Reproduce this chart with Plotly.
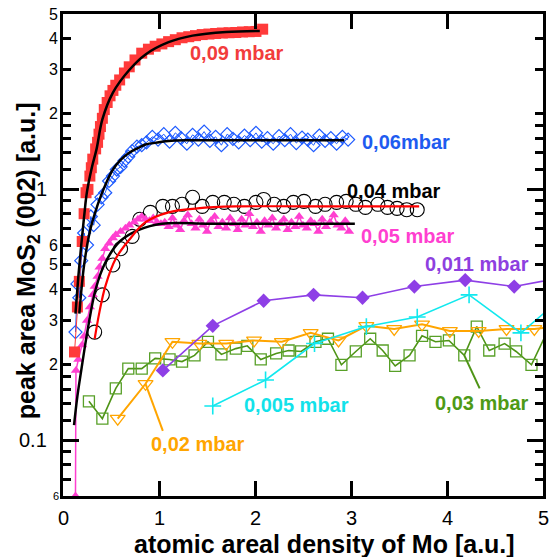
import numpy as np
import plotly.graph_objects as go

# ---- 0,09 mbar (filled red squares) ----
x_009 = [0.12, 0.15, 0.17, 0.20, 0.22, 0.24, 0.26, 0.28, 0.295, 0.31,
         0.34, 0.36, 0.375, 0.39, 0.41, 0.43, 0.46, 0.49, 0.52, 0.55,
         0.59, 0.64, 0.69, 0.75, 0.82, 0.89, 0.96, 1.03, 1.10, 1.17,
         1.24, 1.31, 1.38, 1.45, 1.52, 1.59, 1.66, 1.73, 1.80, 1.87,
         1.94, 2.01, 2.08]
y_009 = [0.225, 0.34, 0.43, 0.62, 0.80, 0.97, 1.00, 1.13, 1.22, 1.32,
         1.45, 1.54, 1.66, 1.78, 1.92, 2.08, 2.22, 2.36, 2.48, 2.60,
         2.73, 2.91, 3.08, 3.28, 3.49, 3.62, 3.72, 3.80, 3.88, 3.95,
         4.02, 4.06, 4.10, 4.14, 4.16, 4.18, 4.20, 4.21, 4.22, 4.24,
         4.25, 4.26, 4.35]
fit_x_009 = [0.13, 0.16, 0.19, 0.22, 0.25, 0.30, 0.35, 0.41, 0.52, 0.69,
             0.86, 1.10, 1.35, 1.70, 2.05]
fit_y_009 = [0.32, 0.45, 0.60, 0.78, 0.98, 1.22, 1.45, 1.90, 2.43, 2.99,
             3.45, 3.86, 4.10, 4.24, 4.28]

# ---- 0,06 mbar (open blue diamonds) ----
x_006 = [0.13, 0.15, 0.17, 0.19, 0.22, 0.25, 0.29, 0.32, 0.36, 0.40,
         0.44, 0.48, 0.52, 0.56, 0.60, 0.64, 0.68, 0.72, 0.77, 0.82,
         0.87, 0.93, 0.99, 1.05, 1.11, 1.17, 1.23, 1.29, 1.35, 1.41,
         1.47, 1.53, 1.59, 1.65, 1.71, 1.77, 1.83, 1.89, 1.95, 2.01,
         2.07, 2.13, 2.19, 2.25, 2.31, 2.37, 2.43, 2.49, 2.55, 2.61,
         2.67, 2.73, 2.79, 2.85, 2.91, 2.97]
y_006 = [0.27, 0.42, 0.37, 0.52, 0.67, 0.60, 0.78, 0.72, 0.87, 0.93,
         0.97, 1.08, 1.13, 1.20, 1.23, 1.30, 1.35, 1.42, 1.48, 1.50,
         1.54, 1.62, 1.58, 1.66, 1.55, 1.68, 1.60, 1.52, 1.65, 1.58,
         1.70, 1.56, 1.62, 1.50, 1.66, 1.59, 1.54, 1.64, 1.57, 1.68,
         1.55, 1.60, 1.52, 1.63, 1.57, 1.66, 1.53, 1.61, 1.58, 1.50,
         1.64, 1.56, 1.60, 1.52, 1.62, 1.58]
fit_x_006 = [0.17, 0.22, 0.28, 0.34, 0.38, 0.45, 0.52, 0.60, 0.69, 0.78,
             0.86, 1.00, 1.10, 1.30, 1.60, 2.00, 2.50, 2.93]
fit_y_006 = [0.32, 0.50, 0.68, 0.82, 0.91, 1.06, 1.20, 1.31, 1.40, 1.46,
             1.51, 1.54, 1.56, 1.57, 1.57, 1.57, 1.57, 1.57]

# ---- 0,05 mbar (filled magenta triangles) ----
x_005 = [0.13, 0.135, 0.16, 0.20, 0.22, 0.25, 0.28, 0.31, 0.33, 0.36,
         0.38, 0.41, 0.44, 0.48, 0.52, 0.55, 0.60, 0.65, 0.69, 0.74,
         0.78, 0.82, 0.86, 0.90, 0.94, 0.98, 1.02,
         1.06, 1.10, 1.14, 1.18, 1.22, 1.26, 1.30, 1.34, 1.38, 1.42,
         1.46, 1.50, 1.54, 1.58, 1.62, 1.66, 1.70, 1.74, 1.78, 1.82,
         1.86, 1.90, 1.94, 1.98, 2.02, 2.06, 2.10, 2.14, 2.18, 2.22,
         2.26, 2.30, 2.34, 2.38, 2.42, 2.46, 2.50, 2.54, 2.58, 2.62,
         2.66, 2.70, 2.74, 2.78, 2.82, 2.86, 2.90, 2.94, 2.98]
y_005 = [0.06, 0.19, 0.21, 0.24, 0.26, 0.30, 0.34, 0.38, 0.41, 0.45,
         0.49, 0.53, 0.58, 0.61, 0.64, 0.66, 0.68, 0.70, 0.72, 0.74,
         0.76, 0.78, 0.76, 0.75, 0.77, 0.74, 0.73,
         0.74, 0.71, 0.77, 0.72, 0.69, 0.75, 0.79, 0.73, 0.70, 0.76,
         0.72, 0.68, 0.75, 0.78, 0.71, 0.74, 0.70, 0.77, 0.73, 0.69,
         0.76, 0.72, 0.80, 0.71, 0.74, 0.68, 0.75, 0.72, 0.77, 0.70,
         0.73, 0.76, 0.69, 0.74, 0.71, 0.78, 0.72, 0.70, 0.75, 0.73,
         0.68, 0.76, 0.71, 0.74, 0.79, 0.72, 0.70, 0.75, 0.68]
fit_x_005 = [0.115, 0.15, 0.19, 0.26, 0.34, 0.44, 0.59, 0.79, 1.03, 1.5,
             2.0, 2.5, 3.04]
fit_y_005 = [0.115, 0.15, 0.19, 0.28, 0.40, 0.51, 0.62, 0.69, 0.73, 0.73,
             0.73, 0.73, 0.73]

# ---- 0,04 mbar (open black circles, red fit) ----
x_004 = [0.33, 0.41, 0.52, 0.60, 0.72, 0.80, 0.91, 1.04, 1.14, 1.24,
         1.35, 1.45, 1.56, 1.68, 1.78, 1.89, 2.01, 2.09, 2.20, 2.30,
         2.40, 2.51, 2.63, 2.73, 2.85, 2.95, 3.05, 3.15, 3.28, 3.38,
         3.48, 3.58, 3.69]
y_004 = [0.27, 0.38, 0.50, 0.58, 0.65, 0.76, 0.81, 0.856, 0.856, 0.872,
         0.93, 0.856, 0.888, 0.888, 0.872, 0.856, 0.888, 0.912, 0.872, 0.856,
         0.888, 0.896, 0.856, 0.872, 0.888, 0.896, 0.872, 0.848, 0.872, 0.848,
         0.84, 0.83, 0.83]
fit_x_004 = [0.33, 0.38, 0.44, 0.55, 0.69, 0.86, 1.1, 1.4, 1.8, 2.5, 3.71]
fit_y_004 = [0.254, 0.325, 0.41, 0.53, 0.63, 0.74, 0.81, 0.84, 0.855, 0.856, 0.856]

# ---- 0,011 mbar (filled purple diamonds) ----
x_0011 = [1.04, 1.56, 2.09, 2.61, 3.12, 3.66, 4.19, 4.70, 5.22]
y_0011 = [0.19, 0.286, 0.36, 0.38, 0.37, 0.41, 0.435, 0.41, 0.447]

# ---- 0,005 mbar (cyan crosses) ----
x_0005 = [1.56, 2.11, 2.62, 3.16, 3.69, 4.23, 4.77, 5.30]
y_0005 = [0.137, 0.174, 0.243, 0.284, 0.31, 0.38, 0.268, 0.40]

# ---- 0,02 mbar (open orange triangles) ----
x_002 = [0.57, 0.86, 1.14, 1.42, 1.70, 1.99, 2.28, 2.58, 2.87, 3.16,
         3.45, 3.74, 4.03, 4.33, 4.62, 4.91, 5.20]
y_002 = [0.122, 0.168, 0.247, 0.243, 0.243, 0.25, 0.247, 0.268, 0.25, 0.286,
         0.278, 0.29, 0.273, 0.273, 0.278, 0.278, 0.285]

# ---- 0,03 mbar (open green squares) ----
x_003 = [0.27, 0.41, 0.55, 0.68, 0.82, 0.96, 1.11, 1.24, 1.37, 1.51,
         1.65, 1.80, 1.92, 2.06, 2.22, 2.35, 2.48, 2.63, 2.76, 2.90,
         3.05, 3.20, 3.33, 3.46, 3.61, 3.74, 3.88, 4.02, 4.18, 4.31,
         4.44, 4.60, 4.72, 4.88, 5.10]
y_003 = [0.143, 0.122, 0.161, 0.193, 0.193, 0.212, 0.21, 0.206, 0.218, 0.247,
         0.22, 0.232, 0.238, 0.21, 0.222, 0.228, 0.226, 0.247, 0.254, 0.20,
         0.226, 0.254, 0.228, 0.198, 0.218, 0.261, 0.247, 0.25, 0.218, 0.284,
         0.228, 0.243, 0.226, 0.20, 0.30]

# leader lines from labels to their series
lead_x_002 = [0.86, 1.04]
lead_y_002 = [0.168, 0.109]
lead_x_003 = [4.18, 4.34]
lead_y_003 = [0.218, 0.161]

# series labels: text, x, log10(y), colour
labels = [
    ("0,09 mbar", 1.81, 0.544, "#F23C3C"),
    ("0,06mbar", 3.57, 0.187, "#1E5BF0"),
    ("0,04 mbar", 3.45, -0.008, "#000000"),
    ("0,05 mbar", 3.59, -0.187, "#FF3FD0"),
    ("0,011 mbar", 4.31, -0.298, "#8E3FE0"),
    ("0,005 mbar", 2.43, -0.861, "#12E2EA"),
    ("0,02 mbar", 1.41, -1.016, "#FFA500"),
    ("0,03 mbar", 4.36, -0.853, "#4E9A16"),
]

# axis ticks and labels
x_ticks = [0, 1, 2, 3, 4, 5]
y_major = [0.1, 1]
y_minor = [0.07, 0.08, 0.09, 0.12, 0.14, 0.16, 0.18, 0.2, 0.3, 0.4, 0.5,
           0.6, 0.7, 0.8, 0.9, 1.2, 1.4, 1.6, 1.8, 2, 3, 4]
y_labels = [(5, "5"), (4, "4"), (3, "3"), (2, "2"), (0.6, "6"), (0.5, "5"),
            (0.4, "4"), (0.3, "3"), (0.2, "2")]
y_major_labels = [(1, "1"), (0.1, "0.1")]
y_bottom_label = (0.06, "6")

FONT = "Liberation Sans, Arial, sans-serif"
RED = "#FF3A3A"
BLUE = "#1E5BFF"
MAGENTA = "#FF3FD0"
PURPLE = "#8E3FE6"
CYAN = "#12E8EE"
ORANGE = "#FFA500"
GREEN = "#58A028"

fig = go.Figure()

def add(x, y, mode, marker=None, line=None, clip=True):
    fig.add_trace(go.Scatter(x=x, y=y, mode=mode, marker=marker, line=line,
                             cliponaxis=clip, showlegend=False, hoverinfo="skip"))

# sparse series
add(x_003, y_003, "lines+markers",
    marker=dict(symbol="square-open", size=11, color=GREEN, line=dict(width=1.3, color=GREEN)),
    line=dict(color="#4E9416", width=1.6))
add(x_002, y_002, "lines+markers",
    marker=dict(symbol="triangle-down-open", size=13, color=ORANGE, line=dict(width=1.3, color=ORANGE)),
    line=dict(color=ORANGE, width=2))
add(x_0005, y_0005, "lines+markers",
    marker=dict(symbol="cross-thin", size=12, color=CYAN, line=dict(width=1.6, color=CYAN)),
    line=dict(color=CYAN, width=1.6))
add(x_0011, y_0011, "lines+markers",
    marker=dict(symbol="diamond", size=11, color=PURPLE),
    line=dict(color=PURPLE, width=1.6))
add(lead_x_002, lead_y_002, "lines", line=dict(color=ORANGE, width=2))
add(lead_x_003, lead_y_003, "lines", line=dict(color="#4E9416", width=2))

# dense series
add(x_004, y_004, "markers",
    marker=dict(symbol="circle-open", size=14, color="black", line=dict(width=1.1, color="black")))
add(x_005, y_005, "lines+markers",
    marker=dict(symbol="triangle-up", size=9, color=MAGENTA),
    line=dict(color=MAGENTA, width=1.5), clip=False)
add(x_006, y_006, "lines+markers",
    marker=dict(symbol="diamond-open", size=10, color=BLUE, line=dict(width=1.2, color=BLUE)),
    line=dict(color=BLUE, width=1))
add(x_009, y_009, "lines+markers",
    marker=dict(symbol="square", size=11, color=RED),
    line=dict(color=RED, width=1))

# fitted curves
add(fit_x_005, fit_y_005, "lines", line=dict(color="black", width=2.5, shape="spline"))
add(fit_x_004, fit_y_004, "lines", line=dict(color="#FF0000", width=2.2, shape="spline"))
add(fit_x_006, fit_y_006, "lines", line=dict(color="black", width=2.5, shape="spline"))
add(fit_x_009, fit_y_009, "lines", line=dict(color="black", width=2.5, shape="spline"))

L, R, T, B = 63, 546, 14, 496
W, H = R - L, B - T

def px_x(px):
    return (px - L) / W

def px_y(py):
    return (B - py) / H

ann = []
for text, x, ly, col in labels:
    ann.append(dict(x=x, y=ly, xref="x", yref="y", text=f"<b>{text}</b>", showarrow=False,
                    font=dict(family=FONT, size=20, color=col), xanchor="center", yanchor="middle"))

for v, t in y_labels:
    ann.append(dict(x=px_x(59), y=np.log10(v), xref="paper", yref="y", text=t, showarrow=False,
                    font=dict(family=FONT, size=16, color="black"), xanchor="right",
                    yanchor="middle", borderpad=0))
for v, t in y_major_labels:
    ann.append(dict(x=px_x(48), y=np.log10(v), xref="paper", yref="y", text=t, showarrow=False,
                    font=dict(family=FONT, size=20, color="black"), xanchor="right",
                    yanchor="middle", borderpad=0))
ann.append(dict(x=px_x(60), y=np.log10(y_bottom_label[0]), xref="paper", yref="y",
                text=y_bottom_label[1], showarrow=False,
                font=dict(family=FONT, size=11, color="black"), xanchor="right",
                yanchor="middle", borderpad=0))
for v in x_ticks:
    ann.append(dict(x=v, y=px_y(518), xref="x", yref="paper", text=str(v), showarrow=False,
                    font=dict(family=FONT, size=20, color="black"), xanchor="center",
                    yanchor="middle", borderpad=0))

ann.append(dict(x=px_x(326), y=px_y(544), xref="paper", yref="paper",
                text="<b>atomic areal density of Mo [a.u.]</b>", showarrow=False,
                font=dict(family=FONT, size=25, color="black"), xanchor="center", yanchor="middle",
                borderpad=0))
ann.append(dict(x=px_x(28), y=px_y(261), xref="paper", yref="paper",
                text="<b>peak area MoS<sub>2</sub> (002) [a.u.]</b>", showarrow=False, textangle=-90,
                font=dict(family=FONT, size=25, color="black"), xanchor="center", yanchor="middle"))

axis_common = dict(showline=True, linewidth=3, linecolor="black", mirror="ticks",
                   ticks="inside", tickwidth=3, tickcolor="black", showgrid=False,
                   zeroline=False, showticklabels=False)

fig.update_layout(
    width=550, height=557,
    margin=dict(l=L, r=550 - R, t=T, b=557 - B),
    paper_bgcolor="white", plot_bgcolor="white",
    xaxis=dict(range=[0, 5], tickmode="array", tickvals=[1, 2, 3, 4], ticklen=15, **axis_common),
    yaxis=dict(type="log", range=[np.log10(0.06), np.log10(5)], tickmode="array",
               tickvals=y_major, ticklen=16,
               minor=dict(tickmode="array", tickvals=y_minor, ticks="inside", ticklen=8,
                          tickwidth=2.5, tickcolor="black"),
               **axis_common),
    annotations=ann,
    font=dict(family=FONT),
)

fig.write_html("out.html")
